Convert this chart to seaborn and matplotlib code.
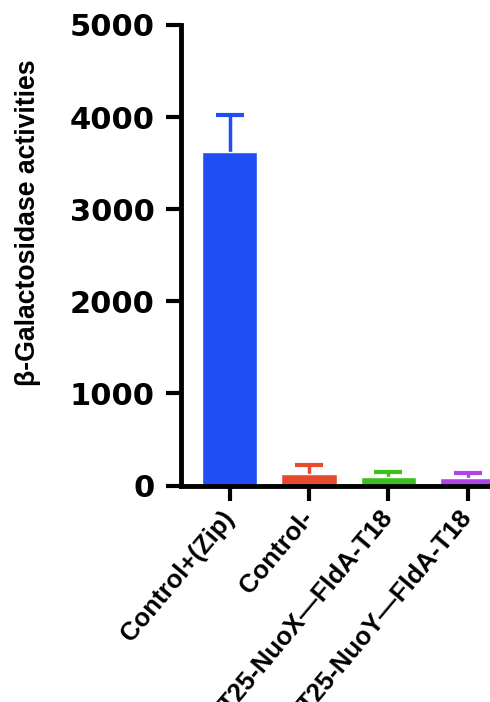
import matplotlib
matplotlib.use('Agg')
import matplotlib.pyplot as plt
import seaborn as sns
import numpy as np
import pandas as pd

# values
categories = ['Control+(Zip)', 'Control-', 'T25-NuoX\u2014FldA-T18', 'T25-NuoY\u2014FldA-T18']
activity = [3620, 125, 90, 85]
errors = [400, 95, 55, 50]
colors = ['#1f4ef5', '#e84a2e', '#3cc01c', '#b044e6']
y_ticks = [0, 1000, 2000, 3000, 4000, 5000]

sns.set_style('ticks')
plt.rcParams['font.family'] = ['Liberation Sans', 'DejaVu Sans']
plt.rcParams['font.weight'] = 'bold'
plt.rcParams['text.color'] = 'black'
plt.rcParams['axes.labelcolor'] = 'black'
plt.rcParams['xtick.color'] = 'black'
plt.rcParams['ytick.color'] = 'black'

df = pd.DataFrame({'group': categories, 'activity': activity})

fig = plt.figure(figsize=(4.9, 7.02), dpi=100)
ax = fig.add_axes([0.3684, 0.3084, 0.6316, 0.656])

sns.barplot(data=df, x='group', y='activity', hue='group', palette=colors,
            width=0.70, saturation=1, legend=False, errorbar=None, ax=ax,
            zorder=2)

# only the upper half of the error bars is shown, coloured like the bars
for i, (v, e, c) in enumerate(zip(activity, errors, colors)):
    _, caps, _ = ax.errorbar(i, v, yerr=[[0], [e]], fmt='none', ecolor=c,
                             elinewidth=2.5, capsize=10, capthick=3, zorder=1)
    for cap in caps:
        if np.allclose(cap.get_ydata(), v):
            cap.remove()

ax.set_xlim(-0.62, 3.28)
ax.set_ylim(0, 5000)
ax.set_yticks(y_ticks)
ax.set_yticklabels([str(t) for t in y_ticks], fontsize=22, fontweight='bold',
                   family='DejaVu Sans')
ax.set_xticks(range(len(categories)))
ax.set_xticklabels(categories, rotation=50, ha='right', va='center',
                   rotation_mode='anchor', fontsize=18.5, fontweight='bold')
ax.set_xlabel('')
ax.set_ylabel('\u03b2-Galactosidase activities', fontsize=19.2,
              fontweight='bold')
ax.yaxis.set_label_coords(-0.451, 0.57)

sns.despine(ax=ax)
for side in ['left', 'bottom']:
    ax.spines[side].set_linewidth(3.5)
    ax.spines[side].set_color('black')
    ax.spines[side].set_zorder(3)
ax.tick_params(axis='both', length=10.5, width=3, color='black')
ax.tick_params(axis='y', pad=8)
ax.tick_params(axis='x', pad=10)
ax.set_facecolor('white')
fig.patch.set_facecolor('white')

fig.savefig('out.png', dpi=100)
plt.close(fig)
